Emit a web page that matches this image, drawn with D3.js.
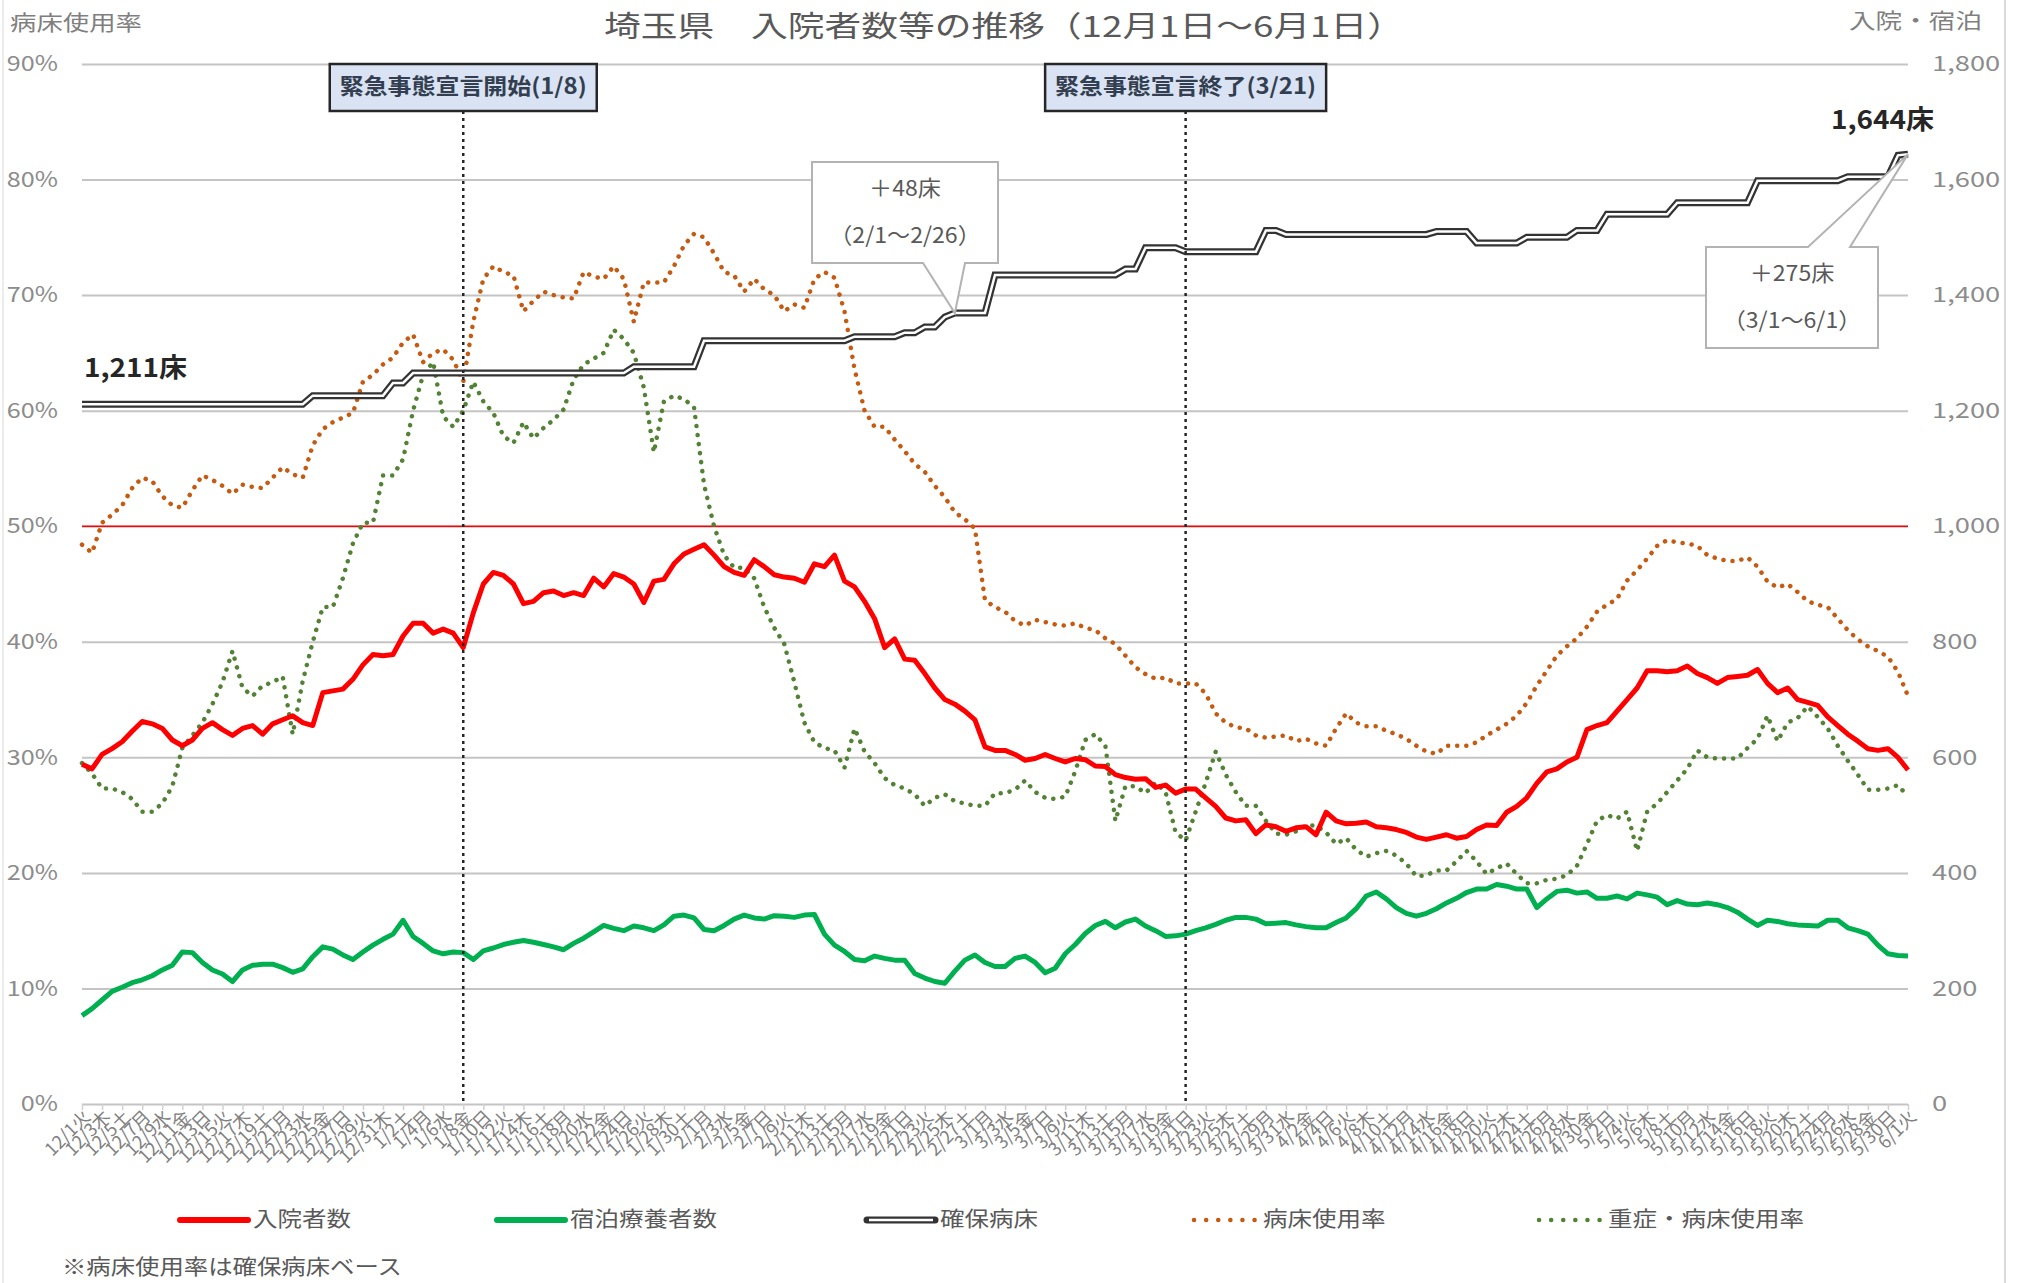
<!DOCTYPE html>
<html>
<head>
<meta charset="utf-8">
<title>埼玉県 入院者数等の推移</title>
<style>
  body { margin: 0; background: #fff; }
  svg text { font-family: "Noto Sans CJK JP", "Noto Sans", sans-serif; }
</style>
<script src="https://cdn.jsdelivr.net/npm/d3@7"></script>
</head>
<body>
<script>
// 日付（12/1～6/1）
var dates = d3.timeDay.range(new Date(2020, 11, 1), new Date(2021, 5, 2));
var weekdays = ['日', '月', '火', '水', '木', '金', '土'];

// 入院者数
var inpatients = [588,580,605,615,627,645,662,658,650,630,
  620,630,650,660,648,638,650,655,640,658,
  665,672,660,655,712,715,718,735,760,778,
  776,778,810,832,832,815,822,815,790,850,
  900,920,915,900,866,870,885,888,880,885,
  880,910,895,918,912,900,868,905,908,935,
  952,960,968,950,930,920,915,942,930,916,
  912,910,903,935,930,950,905,895,870,840,
  790,805,770,768,745,720,700,692,680,665,
  618,612,612,605,595,598,605,598,592,598,
  596,585,584,570,565,562,563,548,552,538,
  545,545,530,515,495,490,492,468,483,480,
  472,478,480,466,505,490,485,486,488,480,
  478,475,470,462,458,462,466,460,463,475,
  483,482,505,515,530,555,575,580,592,600,
  648,655,660,680,700,720,750,750,748,750,
  758,745,738,728,738,740,742,752,728,712,
  720,700,695,690,670,655,640,628,615,612,
  615,600,578];

// 宿泊療養者数
var hotel = [153,165,180,195,202,210,215,222,232,240,
  263,262,245,232,225,212,232,240,242,242,
  236,228,234,255,272,268,258,250,263,275,
  285,294,318,290,278,265,260,263,262,250,
  265,270,276,280,283,280,276,272,267,278,
  287,298,309,304,300,308,305,300,310,325,
  327,322,302,300,309,320,327,322,320,326,
  325,323,327,328,294,275,264,250,248,256,
  252,249,249,226,218,212,209,230,249,258,
  245,238,238,252,256,245,227,235,260,276,
  295,309,316,305,315,320,308,300,290,291,
  294,300,305,311,318,323,323,320,312,313,
  314,310,307,305,305,314,322,338,360,367,
  355,340,330,325,330,338,348,356,366,372,
  372,380,377,372,372,340,355,368,370,365,
  367,356,356,360,355,365,362,358,345,352,
  346,345,348,345,340,332,320,309,318,316,
  312,310,309,308,318,318,305,300,294,275,
  260,257,256];

// 確保病床
var beds = [1211,1211,1211,1211,1211,1211,1211,1211,1211,1211,
  1211,1211,1211,1211,1211,1211,1211,1211,1211,1211,
  1211,1211,1211,1226,1226,1226,1226,1226,1226,1226,
  1226,1248,1248,1265,1265,1265,1265,1265,1265,1265,
  1265,1265,1265,1265,1265,1265,1265,1265,1265,1265,
  1265,1265,1265,1265,1265,1276,1276,1276,1276,1276,
  1276,1276,1321,1321,1321,1321,1321,1321,1321,1321,
  1321,1321,1321,1321,1321,1321,1321,1328,1328,1328,
  1328,1328,1335,1335,1345,1345,1362,1369,1369,1369,
  1369,1435,1435,1435,1435,1435,1435,1435,1435,1435,
  1435,1435,1435,1435,1445,1445,1482,1482,1482,1482,
  1475,1475,1475,1475,1475,1475,1475,1475,1512,1512,
  1505,1505,1505,1505,1505,1505,1505,1505,1505,1505,
  1505,1505,1505,1505,1505,1510,1510,1510,1510,1490,
  1490,1490,1490,1490,1500,1500,1500,1500,1500,1512,
  1512,1512,1540,1540,1540,1540,1540,1540,1540,1560,
  1560,1560,1560,1560,1560,1560,1560,1598,1598,1598,
  1598,1598,1598,1598,1598,1598,1605,1605,1605,1605,
  1605,1642,1644];

// 病床使用率（%）
var occupancy = [48.4,47.7,50.3,51.0,51.8,53.3,54.2,53.9,52.6,51.8,
  51.6,53.1,54.4,54.0,53.5,52.8,53.6,53.4,53.3,54.2,
  55.1,54.5,54.2,57.0,58.4,59.0,59.4,59.8,62.5,63.1,
  64.0,64.6,65.9,66.6,64.2,65.0,65.3,64.4,62.5,67.7,
  71.4,72.5,72.0,71.7,68.6,69.5,70.3,70.0,69.8,69.7,
  72.0,71.6,71.4,72.5,71.4,67.7,71.1,71.1,71.1,72.5,
  74.3,75.3,75.0,73.6,72.0,71.7,70.3,71.4,70.5,70.0,
  68.6,69.2,68.9,71.4,72.0,71.5,68.6,63.6,60.0,58.6,
  58.6,57.5,56.5,55.4,54.7,53.5,52.5,51.2,50.6,49.8,
  43.6,43.0,42.6,41.8,41.4,41.9,41.7,41.5,41.4,41.6,
  41.2,41.0,40.3,39.8,38.8,37.8,37.2,36.8,36.9,36.4,
  36.4,36.4,35.5,33.8,33.0,32.6,32.5,31.9,31.7,31.8,
  31.9,31.4,31.6,31.2,31.0,32.5,33.8,33.0,32.7,32.7,
  32.3,32.0,31.6,31.0,30.5,30.3,31.0,31.0,31.0,31.3,
  31.9,32.4,32.9,33.6,34.7,36.2,37.5,38.8,39.6,40.3,
  41.3,42.6,43.2,43.7,45.3,46.2,47.2,48.3,48.8,48.6,
  48.5,48.3,47.5,47.2,47.0,47.0,47.3,46.5,45.2,44.7,
  45.0,44.3,43.5,43.2,43.0,42.0,41.0,40.2,39.6,39.2,
  38.7,37.4,35.3];

// 重症・病床使用率（%）
var severe = [29.5,28.6,27.3,27.3,27.0,26.4,25.3,25.3,26.0,27.5,
  30.8,31.9,33.0,34.6,36.5,39.2,36.0,35.3,36.2,36.5,
  37.0,32.0,36.6,40.0,43.0,43.0,45.5,48.5,50.3,50.3,
  54.4,54.4,55.8,60.0,63.1,64.2,59.5,58.6,60.0,62.5,
  60.8,59.8,57.8,57.2,59.0,57.6,58.5,59.2,60.1,62.7,
  64.0,64.5,65.0,67.0,66.2,65.0,62.0,56.4,60.8,61.3,
  61.0,60.3,53.6,50.0,47.5,46.4,46.4,45.5,43.0,41.2,
  39.8,36.5,33.0,31.3,30.8,30.6,29.1,32.5,30.5,29.5,
  28.2,27.6,27.3,26.8,25.8,26.5,26.8,26.2,26.0,25.8,
  25.8,26.9,26.9,27.2,28.0,27.0,26.5,26.4,26.6,28.8,
  31.5,32.0,31.0,24.5,27.5,27.5,26.9,27.8,27.0,23.5,
  22.8,25.3,27.8,30.5,28.5,27.0,25.8,25.8,24.5,23.4,
  23.3,23.6,24.1,24.1,23.5,22.5,23.0,22.0,21.4,21.7,
  21.9,21.5,20.8,19.7,19.8,20.2,20.2,21.0,21.9,21.0,
  19.9,20.4,20.8,19.9,19.1,19.1,19.4,19.5,19.8,20.6,
  22.5,24.5,25.0,24.7,25.3,21.9,25.3,26.0,27.0,28.0,
  29.0,30.6,30.0,29.9,29.9,29.9,30.8,31.6,33.6,31.4,
  33.0,33.4,34.4,33.5,32.5,31.0,29.7,28.5,27.2,27.2,
  27.3,27.6,26.6];

var pctTicks = [0, 10, 20, 30, 40, 50, 60, 70, 80, 90];
var bedTicks = [0, 200, 400, 600, 800, 1000, 1200, 1400, 1600, 1800];

// 注記
var events = [
  { day: 38, label: '緊急事態宣言開始(1/8)', w: 267 },
  { day: 110, label: '緊急事態宣言終了(3/21)', w: 281 }
];
var callouts = [
  { day: 87, lines: ['＋48床', '（2/1～2/26）'], box: [812, 162, 186, 101], tail: [923, 965] },
  { day: 182, lines: ['＋275床', '（3/1～6/1）'], box: [1706, 247, 172, 101], tail: [1808, 1850] }
];

var legendItems = [
  { name: '入院者数', type: 'red', x: 180 },
  { name: '宿泊療養者数', type: 'green', x: 497 },
  { name: '確保病床', type: 'double', x: 867 },
  { name: '病床使用率', type: 'odot', x: 1190 },
  { name: '重症・病床使用率', type: 'gdot', x: 1535 }
];

var svgWidth = 2018, svgHeight = 1283;
var plotLeft = 82, plotRight = 1908, plotTop = 64, plotBottom = 1104;

var svg = d3.select('body').append('svg')
  .attr('width', svgWidth)
  .attr('height', svgHeight);

var x = d3.scalePoint().domain(d3.range(dates.length)).range([plotLeft, plotRight]);
var yPct = d3.scaleLinear().domain([0, 90]).range([plotBottom, plotTop]);
var yBed = d3.scaleLinear().domain([0, 1800]).range([plotBottom, plotTop]);

// 外枠
svg.append('line').attr('x1', 3).attr('x2', 3).attr('y1', 0).attr('y2', svgHeight).style('stroke', '#d9d9d9');
svg.append('line').attr('x1', 2005).attr('x2', 2005).attr('y1', 0).attr('y2', svgHeight).style('stroke', '#d9d9d9').style('stroke-width', 2);

// 目盛線
svg.append('g')
  .attr('transform', 'translate(' + plotLeft + ',0)')
  .call(d3.axisLeft(yPct).tickValues(pctTicks).tickSize(-(plotRight - plotLeft)).tickFormat(''))
  .call(function (g) { g.select('.domain').remove(); })
  .selectAll('line')
  .style('stroke', '#c4c4c4')
  .style('stroke-width', 2);

// 50%ライン
svg.append('line')
  .attr('x1', plotLeft).attr('x2', plotRight)
  .attr('y1', yPct(50)).attr('y2', yPct(50))
  .style('stroke', '#ff0000')
  .style('stroke-width', 1.5);

// 左軸
var leftAxis = svg.append('g')
  .attr('transform', 'translate(58,0)')
  .call(d3.axisLeft(yPct).tickValues(pctTicks).tickSize(0).tickPadding(0).tickFormat(function (d) { return d + '%'; }));
leftAxis.select('.domain').remove();
leftAxis.selectAll('text')
  .style('font-size', '21px')
  .style('fill', '#8c8c8c')
  .attr('transform', 'scale(1.2,1)');

// 右軸
var rightAxis = svg.append('g')
  .attr('transform', 'translate(1932,0)')
  .call(d3.axisRight(yBed).tickValues(bedTicks).tickSize(0).tickPadding(0).tickFormat(d3.format(',')));
rightAxis.select('.domain').remove();
rightAxis.selectAll('text')
  .style('font-size', '21px')
  .style('fill', '#8c8c8c')
  .attr('transform', 'scale(1.3,1)');

// 下軸
var bottomAxis = svg.append('g')
  .attr('transform', 'translate(0,' + plotBottom + ')')
  .call(d3.axisBottom(x)
    .tickValues(d3.range(0, dates.length, 2))
    .tickSize(6)
    .tickFormat(function (i) {
      var d = dates[i];
      return (d.getMonth() + 1) + '/' + d.getDate() + weekdays[d.getDay()];
    }));
bottomAxis.select('.domain').remove();
bottomAxis.selectAll('line').style('stroke', '#d0d0d0').style('stroke-width', 1.5);
bottomAxis.selectAll('text')
  .style('font-size', '18px')
  .style('fill', '#808080')
  .style('text-anchor', 'end')
  .attr('dx', '-0.2em')
  .attr('dy', '0.35em')
  .attr('y', 10)
  .attr('transform', 'rotate(-45)');

// 系列
var lineFor = function (scale) {
  return d3.line().x(function (d, i) { return x(i); }).y(function (d) { return scale(d); });
};

svg.append('path').datum(occupancy)
  .attr('d', lineFor(yPct))
  .style('fill', 'none')
  .style('stroke', '#c55a11')
  .style('stroke-width', 4.5)
  .style('stroke-linecap', 'round')
  .style('stroke-dasharray', '0.1,9');

svg.append('path').datum(severe)
  .attr('d', lineFor(yPct))
  .style('fill', 'none')
  .style('stroke', '#548235')
  .style('stroke-width', 4.5)
  .style('stroke-linecap', 'round')
  .style('stroke-dasharray', '0.1,9');

svg.append('path').datum(hotel)
  .attr('d', lineFor(yBed))
  .style('fill', 'none')
  .style('stroke', '#00b050')
  .style('stroke-width', 5)
  .style('stroke-linejoin', 'round');

svg.append('path').datum(inpatients)
  .attr('d', lineFor(yBed))
  .style('fill', 'none')
  .style('stroke', '#ff0000')
  .style('stroke-width', 5)
  .style('stroke-linejoin', 'round');

svg.append('path').datum(beds)
  .attr('d', lineFor(yBed))
  .style('fill', 'none')
  .style('stroke', '#333333')
  .style('stroke-width', 7);
svg.append('path').datum(beds)
  .attr('d', lineFor(yBed))
  .style('fill', 'none')
  .style('stroke', '#ffffff')
  .style('stroke-width', 2.5);

// 緊急事態宣言
events.forEach(function (e) {
  var cx = x(e.day);
  svg.append('line')
    .attr('x1', cx).attr('x2', cx)
    .attr('y1', 111).attr('y2', plotBottom)
    .style('stroke', '#262626')
    .style('stroke-width', 2.5)
    .style('stroke-dasharray', '3,4');
  svg.append('rect')
    .attr('x', cx - e.w / 2).attr('y', 64)
    .attr('width', e.w).attr('height', 47)
    .style('fill', '#dae3f3')
    .style('stroke', '#262626')
    .style('stroke-width', 2.5);
  svg.append('text')
    .attr('x', cx).attr('y', 88)
    .attr('text-anchor', 'middle')
    .attr('dominant-baseline', 'middle')
    .attr('textLength', e.w - 20)
    .attr('lengthAdjust', 'spacingAndGlyphs')
    .style('font-size', '22px')
    .style('font-weight', 'bold')
    .style('fill', '#333f50')
    .text(e.label);
});

// 吹き出し
callouts.forEach(function (c) {
  var b = c.box;
  var tipX = x(c.day), tipY = yBed(beds[c.day]);
  var bx = b[0], by = b[1], bw = b[2], bh = b[3];
  var path;
  if (tipY > by + bh) {
    path = 'M' + bx + ',' + by + 'H' + (bx + bw) + 'V' + (by + bh) + 'H' + c.tail[1] +
      'L' + tipX + ',' + tipY + 'L' + c.tail[0] + ',' + (by + bh) + 'H' + bx + 'Z';
  } else {
    path = 'M' + bx + ',' + by + 'H' + c.tail[0] + 'L' + tipX + ',' + tipY + 'L' + c.tail[1] + ',' + by +
      'H' + (bx + bw) + 'V' + (by + bh) + 'H' + bx + 'Z';
  }
  svg.append('path')
    .attr('d', path)
    .style('fill', '#ffffff')
    .style('stroke', '#b3b3b3')
    .style('stroke-width', 2);
  c.lines.forEach(function (t, k) {
    var cx = bx + bw / 2;
    svg.append('text')
      .attr('transform', 'translate(' + cx + ',' + (by + 28 + k * 47) + ') scale(1.05,1)')
      .attr('text-anchor', 'middle')
      .attr('dominant-baseline', 'middle')
      .style('font-size', '22px')
      .style('fill', '#595959')
      .text(t);
  });
});

// 確保病床ラベル
svg.append('text')
  .attr('x', 84).attr('y', 370)
  .attr('dominant-baseline', 'middle')
  .attr('textLength', 103)
  .attr('lengthAdjust', 'spacingAndGlyphs')
  .style('font-size', '26px')
  .style('font-weight', 'bold')
  .style('fill', '#262626')
  .text(d3.format(',')(beds[0]) + '床');
svg.append('text')
  .attr('x', 1831).attr('y', 122)
  .attr('dominant-baseline', 'middle')
  .attr('textLength', 103)
  .attr('lengthAdjust', 'spacingAndGlyphs')
  .style('font-size', '26px')
  .style('font-weight', 'bold')
  .style('fill', '#262626')
  .text(d3.format(',')(beds[beds.length - 1]) + '床');

// タイトル
svg.append('text')
  .attr('x', 1004).attr('y', 29)
  .attr('text-anchor', 'middle')
  .attr('dominant-baseline', 'middle')
  .attr('textLength', 800)
  .attr('lengthAdjust', 'spacingAndGlyphs')
  .style('font-size', '29px')
  .style('fill', '#595959')
  .text('埼玉県　入院者数等の推移（12月1日～6月1日）');

svg.append('text')
  .attr('x', 10).attr('y', 24)
  .attr('dominant-baseline', 'middle')
  .attr('textLength', 132)
  .attr('lengthAdjust', 'spacingAndGlyphs')
  .style('font-size', '21px')
  .style('fill', '#7f7f7f')
  .text('病床使用率');
svg.append('text')
  .attr('x', 1982).attr('y', 22)
  .attr('text-anchor', 'end')
  .attr('dominant-baseline', 'middle')
  .attr('textLength', 133)
  .attr('lengthAdjust', 'spacingAndGlyphs')
  .style('font-size', '21px')
  .style('fill', '#7f7f7f')
  .text('入院・宿泊');

// 凡例
var ly = 1220;
legendItems.forEach(function (it) {
  var g = svg.append('g');
  var x0 = it.x, x1 = it.x + 68;
  if (it.type === 'red' || it.type === 'green') {
    g.append('line').attr('x1', x0).attr('x2', x1).attr('y1', ly).attr('y2', ly)
      .style('stroke', it.type === 'red' ? '#ff0000' : '#00b050')
      .style('stroke-width', 6)
      .style('stroke-linecap', 'round');
  } else if (it.type === 'double') {
    g.append('line').attr('x1', x0).attr('x2', x1).attr('y1', ly).attr('y2', ly)
      .style('stroke', '#333333').style('stroke-width', 7).style('stroke-linecap', 'round');
    g.append('line').attr('x1', x0 + 2).attr('x2', x1 - 2).attr('y1', ly).attr('y2', ly)
      .style('stroke', '#ffffff').style('stroke-width', 2.5);
  } else {
    g.append('line').attr('x1', x0 + 4).attr('x2', x1).attr('y1', ly).attr('y2', ly)
      .style('stroke', it.type === 'odot' ? '#c55a11' : '#548235')
      .style('stroke-width', 4.5)
      .style('stroke-linecap', 'round')
      .style('stroke-dasharray', '0.1,12');
  }
  g.append('text')
    .attr('x', x1 + 5).attr('y', ly)
    .attr('dominant-baseline', 'middle')
    .attr('textLength', it.name.length * 24.5)
    .attr('lengthAdjust', 'spacingAndGlyphs')
    .style('font-size', '21px')
    .style('fill', '#595959')
    .text(it.name);
});

svg.append('text')
  .attr('x', 62).attr('y', 1268)
  .attr('dominant-baseline', 'middle')
  .attr('textLength', 340)
  .attr('lengthAdjust', 'spacingAndGlyphs')
  .style('font-size', '21px')
  .style('fill', '#595959')
  .text('※病床使用率は確保病床ベース');
</script>
</body>
</html>
